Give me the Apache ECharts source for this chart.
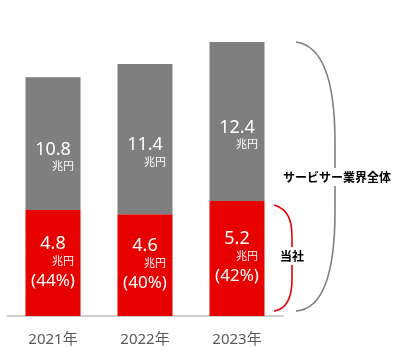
<!DOCTYPE html>
<html><head><meta charset="utf-8">
<script src="https://cdn.jsdelivr.net/npm/echarts@6/dist/echarts.min.js"></script>
<style>html,body{margin:0;padding:0;background:#fff}#c{width:400px;height:358px}</style>
</head><body><div id="c"></div>
<script>
const categories = ['2021年', '2022年', '2023年'];
const totalValues = [10.8, 11.4, 12.4];     // サービサー業界全体 (兆円)
const companyValues = [4.8, 4.6, 5.2];      // 当社 (兆円)
const sharePct = [44, 40, 42];              // 当社シェア (%)
const unitLabel = '兆円';
const totalLabel = 'サービサー業界全体';
const companyLabel = '当社';

const restValues = totalValues.map((t, i) => +(t - companyValues[i]).toFixed(1));
const FONT = "'Noto Sans', 'Noto Sans CJK JP', sans-serif";
const GRAY = '#7f7f7f', RED = '#e60000';

const chart = echarts.init(document.getElementById('c'), null, {renderer: 'canvas'});
const yMax = Math.max(...totalValues);

chart.setOption({
  animation: false,
  grid: {left: 7, right: 117, top: 42, bottom: 42},
  xAxis: {
    type: 'category', data: categories,
    axisLine: {lineStyle: {color: '#bfbfbf', width: 1.5}},
    axisTick: {show: false},
    axisLabel: {color: '#595959', fontSize: 15, fontFamily: FONT, margin: 16}
  },
  yAxis: {type: 'value', min: 0, max: yMax, show: false, splitLine: {show: false}},
  series: [
    {
      type: 'bar', stack: 's', data: companyValues, barWidth: 55,
      itemStyle: {color: RED},
      label: {
        show: true, position: 'inside', fontFamily: FONT,
        formatter: p => `{v|${companyValues[p.dataIndex].toFixed(1)}}\n{u|${unitLabel}}\n{p|(${sharePct[p.dataIndex]}%)}`,
        rich: {
          v: {fontSize: 18, color: '#fff', lineHeight: 19, fontFamily: FONT},
          u: {fontSize: 11, color: '#fff', lineHeight: 17, padding: [0, 0, 0, 20], fontFamily: FONT},
          p: {fontSize: 17, color: '#fff', lineHeight: 22, fontFamily: FONT}
        }
      }
    },
    {
      type: 'bar', stack: 's', data: restValues, barWidth: 55,
      itemStyle: {color: GRAY},
      label: {
        show: true, position: 'inside', offset: [0, 14], fontFamily: FONT,
        formatter: p => `{v|${totalValues[p.dataIndex].toFixed(1)}}\n{u|${unitLabel}}`,
        rich: {
          v: {fontSize: 18, color: '#fff', lineHeight: 19, fontFamily: FONT},
          u: {fontSize: 11, color: '#fff', lineHeight: 16, padding: [0, 0, 0, 20], fontFamily: FONT}
        }
      }
    }
  ]
});

// brackets (annotations) positioned from the axis scale
const yTop = chart.convertToPixel({yAxisIndex: 0}, yMax);
const yZero = chart.convertToPixel({yAxisIndex: 0}, 0);
const yComp = chart.convertToPixel({yAxisIndex: 0}, companyValues[companyValues.length - 1]);
const gBot = yZero - 5;
const gx0 = 296, gx1 = 335;
const rTop = yComp + 4, rBot = yZero - 5;
const rx0 = 274, rx1 = 292;

function bracket(x0, x1, top, bot, bend, color) {
  const ls = {stroke: color, lineWidth: 1.6, fill: null};
  return [
    {type: 'bezierCurve', z: 10, shape: {x1: x0, y1: top, cpx1: x0 + (x1 - x0) * 0.75, cpy1: top + 4, cpx2: x1, cpy2: top + bend * 0.45, x2: x1, y2: top + bend}, style: ls},
    {type: 'line', z: 10, shape: {x1: x1, y1: top + bend, x2: x1, y2: bot - bend}, style: ls},
    {type: 'bezierCurve', z: 10, shape: {x1: x1, y1: bot - bend, cpx1: x1, cpy1: bot - bend * 0.45, cpx2: x0 + (x1 - x0) * 0.75, cpy2: bot - 2, x2: x0, y2: bot}, style: ls}
  ];
}

chart.setOption({
  graphic: [
    ...bracket(gx0, gx1, yTop, gBot, 100, GRAY),
    ...bracket(rx0, rx1, rTop, rBot, 32, RED),
    {type: 'text', x: 337, y: 177, z: 20,
     style: {text: totalLabel, fill: '#000', font: "bold 12px 'Noto Sans CJK JP', sans-serif", align: 'center', verticalAlign: 'middle', backgroundColor: '#fff', padding: [3, 1]}},
    {type: 'text', x: 292, y: 256, z: 20,
     style: {text: companyLabel, fill: '#000', font: "bold 12px 'Noto Sans CJK JP', sans-serif", align: 'center', verticalAlign: 'middle', backgroundColor: '#fff', padding: [3, 1]}}
  ]
});
</script></body></html>
